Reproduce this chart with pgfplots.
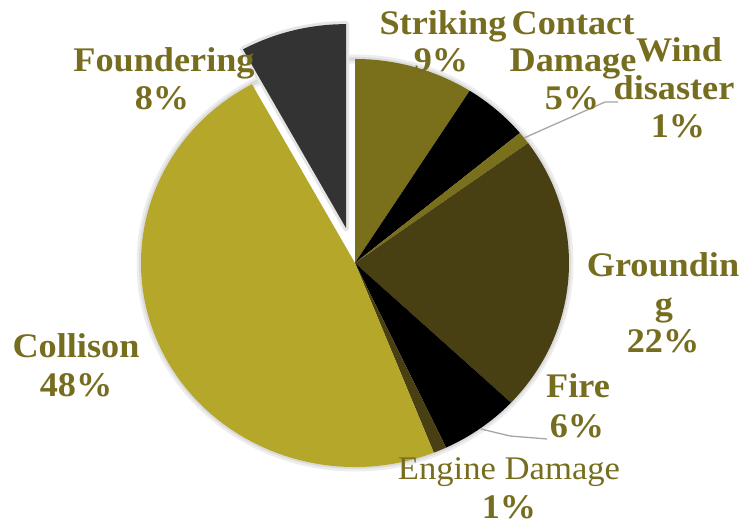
\documentclass[border=0pt]{standalone}
\usepackage{pgfplots}
\pgfplotsset{compat=1.18}
\usepackage{fontspec}
\setmainfont{Liberation Serif}[FakeStretch=1.05]
\definecolor{cStrike}{RGB}{122,111,26}
\definecolor{cGround}{RGB}{72,63,18}
\definecolor{cColl}{RGB}{181,167,42}
\definecolor{cFound}{RGB}{51,51,51}
\definecolor{txt}{RGB}{119,109,31}
\definecolor{lead}{RGB}{165,165,165}
% pie centre and radii (axis units = px of the reference)
\def\cx{355}\def\cy{261}
\def\rx{214bp}\def\ry{204bp}
\gdef\curang{90}
% \slice{percent}{colour}{explode distance}
\newcommand\slice[3]{%
  \pgfmathsetmacro\sa{\curang}%
  \pgfmathsetmacro\ea{\curang-3.6*#1}%
  \pgfmathsetmacro\ma{(\sa+\ea)/2}%
  \ifdim#3pt>0pt
    \edef\tmp{\noexpand\path[draw=black!10,line width=6bp,line join=round]
      (axis cs:\cx,\cy) ++(\ma:#3bp) -- ++(\sa:\rx\space and \ry)
      arc[start angle=\sa,end angle=\ea,x radius=\rx,y radius=\ry] -- cycle;}\tmp
  \fi
  \edef\tmp{\noexpand\fill[#2]
    (axis cs:\cx,\cy) ++(\ma:#3bp) -- ++(\sa:\rx\space and \ry)
    arc[start angle=\sa,end angle=\ea,x radius=\rx,y radius=\ry] -- cycle;}\tmp
  \xdef\curang{\ea}}
\begin{document}
\begin{tikzpicture}
\begin{axis}[name=ax, width=742bp, height=524bp, scale only axis,
  xmin=0, xmax=742, ymin=0, ymax=524, hide axis, clip=false]
% soft edge of the pie
\draw[black!7, line width=9bp] (axis cs:\cx,\cy) ellipse[x radius=\rx, y radius=\ry];
\draw[black!14, line width=4bp] (axis cs:\cx,\cy) ellipse[x radius=\rx, y radius=\ry];
% slices, clockwise from 12 o'clock
\slice{9}{cStrike}{0}   % Striking
\slice{5}{black}{0}     % Contact Damage
\slice{1}{cStrike}{0}   % Wind disaster
\slice{22}{cGround}{0}  % Grounding
\slice{6}{black}{0}     % Fire
\slice{1}{cGround}{0}   % Engine Damage
\slice{48}{cColl}{0}    % Collison
\slice{8}{cFound}{36}   % Foundering (exploded)
% leader lines
\draw[lead, line width=1.3bp] (axis cs:524,386) -- (axis cs:605,422) -- (axis cs:618,422);
\draw[lead, line width=1.3bp] (axis cs:481,95) -- (axis cs:510,88) -- (axis cs:547,85);
% labels
\tikzset{lb/.style={anchor=base, text=txt, inner sep=0pt, font=\fontsize{34.5bp}{38bp}\selectfont\bfseries},
         lr/.style={anchor=base, text=txt, inner sep=0pt, font=\fontsize{33bp}{38bp}\selectfont}}
\node[lb] at (axis cs:443,489) {Striking};
\node[lb] at (axis cs:441,452) {9\%};
\node[lb] at (axis cs:573,489) {Contact};
\node[lb] at (axis cs:573,452) {Damage};
\node[lb] at (axis cs:572,414) {5\%};
\node[lb] at (axis cs:679,462) {Wind};
\node[lb] at (axis cs:674,424) {disaster};
\node[lb] at (axis cs:678,386) {1\%};
\node[lb] at (axis cs:663,247) {Groundin};
\node[lb] at (axis cs:664,208) {g};
\node[lb] at (axis cs:663,171) {22\%};
\node[lb] at (axis cs:578,126) {Fire};
\node[lb] at (axis cs:577,86) {6\%};
\node[lr] at (axis cs:509,44) {Engine Damage};
\node[lb] at (axis cs:509,6) {1\%};
\node[lb] at (axis cs:164,452) {Foundering};
\node[lb] at (axis cs:162,414) {8\%};
\node[lb] at (axis cs:76,166) {Collison};
\node[lb] at (axis cs:76,127) {48\%};
\end{axis}
\pgfresetboundingbox
\path (ax.south west) rectangle (ax.north east);
\end{tikzpicture}
\end{document}
